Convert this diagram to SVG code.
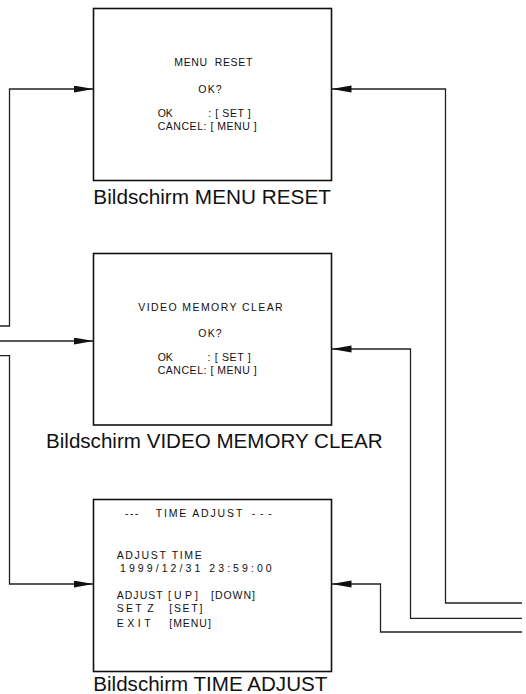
<svg xmlns="http://www.w3.org/2000/svg" width="526" height="694" viewBox="0 0 526 694">
<style>
.box{fill:#fff;stroke:#111;stroke-width:1.6}
.st{font-family:"Liberation Sans",Arial,sans-serif;font-size:10.5px;fill:#111}
.lbl{font-family:"Liberation Sans",Arial,sans-serif;font-size:20.5px;fill:#111}
.con{fill:none;stroke:#222;stroke-width:1.3}
</style>
<defs>
<marker id="ah" markerUnits="userSpaceOnUse" markerWidth="21" markerHeight="8" refX="20" refY="3.5" orient="auto">
<path d="M0,0 L20,3.5 L0,7 z" fill="#111"/>
</marker>
</defs>
<rect width="526" height="694" fill="#fff"/>
<g id="connectors">
<path class="con" d="M0,326 H9.5 V89 H93.5" marker-end="url(#ah)"/>
<path class="con" d="M0,341 H93.5" marker-end="url(#ah)"/>
<path class="con" d="M0,355.7 H9.5 V584 H93.5" marker-end="url(#ah)"/>
<path class="con" d="M522,603 H445.5 V89 H331.5" marker-end="url(#ah)"/>
<path class="con" d="M522,618.3 H410.5 V349 H331.5" marker-end="url(#ah)"/>
<path class="con" d="M522,632 H380.5 V584 H331.5" marker-end="url(#ah)"/>
</g>
<g id="menu-reset">
<rect class="box" x="93.5" y="8.5" width="238" height="172"/>
<text class="st" x="174.3" y="66" textLength="78" lengthAdjust="spacing" xml:space="preserve">MENU  RESET</text>
<text class="st" x="198.3" y="92.7" textLength="23.4" lengthAdjust="spacing">OK?</text>
<text class="st" x="157.7" y="116.7">OK</text>
<text class="st" x="208.3" y="116.7" textLength="42.4" lengthAdjust="spacing">: [ SET ]</text>
<text class="st" x="157.7" y="130" textLength="99" lengthAdjust="spacing">CANCEL: [ MENU ]</text>
<text class="lbl" x="93.3" y="204" textLength="237.7" lengthAdjust="spacingAndGlyphs">Bildschirm MENU RESET</text>
</g>
<g id="video-memory-clear">
<rect class="box" x="93.5" y="253.5" width="238" height="171.5"/>
<text class="st" x="138.3" y="311" textLength="144.4" lengthAdjust="spacing">VIDEO MEMORY CLEAR</text>
<text class="st" x="198.3" y="336.7" textLength="23.4" lengthAdjust="spacing">OK?</text>
<text class="st" x="157.7" y="360.7">OK</text>
<text class="st" x="207.5" y="360.7" textLength="43.2" lengthAdjust="spacing">: [ SET ]</text>
<text class="st" x="157.7" y="374" textLength="99" lengthAdjust="spacing">CANCEL: [ MENU ]</text>
<text class="lbl" x="46" y="447.7" textLength="336.7" lengthAdjust="spacingAndGlyphs">Bildschirm VIDEO MEMORY CLEAR</text>
</g>
<g id="time-adjust">
<rect class="box" x="93.5" y="499.5" width="238" height="172"/>
<text class="st" x="125" y="516.7" textLength="13.3" lengthAdjust="spacing">---</text>
<text class="st" x="155.7" y="516.7" textLength="86.6" lengthAdjust="spacing">TIME ADJUST</text>
<text class="st" x="251.7" y="516.7" textLength="20" lengthAdjust="spacing">---</text>
<text class="st" x="116.7" y="559" textLength="85" lengthAdjust="spacing">ADJUST TIME</text>
<text class="st" x="120" y="571.7" textLength="151.7" lengthAdjust="spacing">1999/12/31 23:59:00</text>
<text class="st" x="116.7" y="599" textLength="46" lengthAdjust="spacing">ADJUST</text>
<text class="st" x="168" y="599" textLength="30" lengthAdjust="spacing">[UP]</text>
<text class="st" x="211" y="599" textLength="44" lengthAdjust="spacing">[DOWN]</text>
<text class="st" x="116.7" y="612" textLength="25" lengthAdjust="spacing">SET</text>
<text class="st" x="147.3" y="612">Z</text>
<text class="st" x="169.3" y="612" textLength="33" lengthAdjust="spacing">[SET]</text>
<text class="st" x="116.7" y="626.7" textLength="34" lengthAdjust="spacing">EXIT</text>
<text class="st" x="169.3" y="626.7" textLength="41.5" lengthAdjust="spacing">[MENU]</text>
<text class="lbl" x="93.3" y="691" textLength="234" lengthAdjust="spacingAndGlyphs">Bildschirm TIME ADJUST</text>
</g>
</svg>
